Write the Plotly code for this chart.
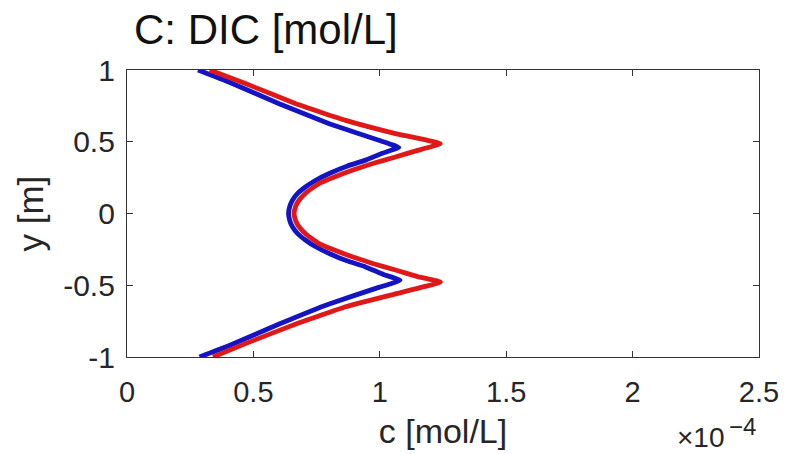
import plotly.graph_objects as go

# Depth y [m]
y_blue = [1.00, 0.915, 0.765, 0.626, 0.51, 0.46, 0.42, 0.372, 0.33, 0.279, 0.23, 0.186, 0.14, 0.094, 0.05, 0.0,
          -0.05, -0.094, -0.14, -0.186, -0.23, -0.279, -0.33, -0.372, -0.425, -0.465, -0.515, -0.63, -0.77, -0.92, -1.0]
# DIC concentration, in units of 1e-4 mol/L
c_blue = [0.281, 0.405, 0.602, 0.800, 0.996, 1.075, 1.010, 0.944, 0.870, 0.800, 0.745, 0.707, 0.675, 0.655, 0.644, 0.639,
          0.644, 0.655, 0.675, 0.707, 0.745, 0.800, 0.870, 0.944, 1.015, 1.080, 0.996, 0.800, 0.602, 0.405, 0.287]

y_red = [1.00, 0.904, 0.765, 0.649, 0.557, 0.487, 0.44, 0.394, 0.35, 0.302, 0.255, 0.21, 0.15, 0.094, 0.05, 0.0,
         -0.05, -0.094, -0.15, -0.21, -0.255, -0.302, -0.35, -0.394, -0.44, -0.478, -0.56, -0.65, -0.77, -0.905, -1.0]
c_red = [0.327, 0.471, 0.668, 0.865, 1.062, 1.239, 1.150, 1.062, 0.975, 0.891, 0.820, 0.760, 0.712, 0.681, 0.667, 0.661,
         0.667, 0.681, 0.712, 0.760, 0.820, 0.891, 0.975, 1.062, 1.150, 1.240, 1.062, 0.865, 0.668, 0.471, 0.340]

x_ticks = [0, 0.5, 1, 1.5, 2, 2.5]
x_ticktext = ["0", "0.5", "1", "1.5", "2", "2.5"]
y_ticks = [-1, -0.5, 0, 0.5, 1]
y_ticktext = ["-1", "-0.5", "0", "0.5", "1"]

FONT = "Liberation Sans, Arial, Helvetica, sans-serif"
AX = "#333333"

fig = go.Figure()
fig.add_trace(go.Scatter(x=c_blue, y=y_blue, mode="lines",
                         line=dict(color="#1414c4", width=4.8, shape="spline", smoothing=0.3),
                         showlegend=False))
fig.add_trace(go.Scatter(x=c_red, y=y_red, mode="lines",
                         line=dict(color="#e01818", width=4.8, shape="spline", smoothing=0.3),
                         showlegend=False))

# page body adds an 8px offset, so margins are compensated
fig.update_layout(
    width=789, height=454,
    margin=dict(l=119, r=38, t=62, b=105, autoexpand=False),
    paper_bgcolor="white", plot_bgcolor="white",
    font=dict(family=FONT, color="#262626"),
    title=dict(text="C: DIC [mol/L]", x=126/789, xref="container", xanchor="left",
               y=1 - 21/454, yref="container", yanchor="middle",
               font=dict(size=42, color="#111111", family=FONT)),
)
fig.update_xaxes(range=[0, 2.5], tickvals=x_ticks, ticktext=x_ticktext, automargin=False,
                 ticks="inside", ticklen=6, tickcolor=AX, tickwidth=1.2,
                 showline=True, linecolor=AX, linewidth=1.3, mirror="ticks",
                 showgrid=False, zeroline=False, ticklabelstandoff=9,
                 tickfont=dict(size=29, color="#262626"),
                 title=dict(text="c [mol/L]", font=dict(size=34, color="#262626"), standoff=12))
fig.update_yaxes(range=[-1, 1], tickvals=y_ticks, ticktext=y_ticktext, automargin=False,
                 ticks="inside", ticklen=6, tickcolor=AX, tickwidth=1.2,
                 showline=True, linecolor=AX, linewidth=1.3, mirror="ticks",
                 showgrid=False, zeroline=False, ticklabelstandoff=5,
                 tickfont=dict(size=30, color="#262626"))

fig.add_annotation(text="y [m]", xref="paper", yref="paper", x=0, y=0.5,
                   xanchor="center", yanchor="middle", xshift=-97, textangle=-90,
                   showarrow=False, font=dict(size=35, color="#262626", family=FONT))
# axis exponent: "×10" with a superscript "−4"
fig.add_annotation(text="×10", xref="paper", yref="paper",
                   x=1.0, y=0, xanchor="right", yanchor="middle", yshift=-80, xshift=-32,
                   showarrow=False, font=dict(size=28, color="#262626", family=FONT))
fig.add_annotation(text="−4", xref="paper", yref="paper",
                   x=1.0, y=0, xanchor="left", yanchor="middle", yshift=-69, xshift=-32,
                   showarrow=False, font=dict(size=24, color="#262626", family=FONT))

fig.write_html("out.html")
